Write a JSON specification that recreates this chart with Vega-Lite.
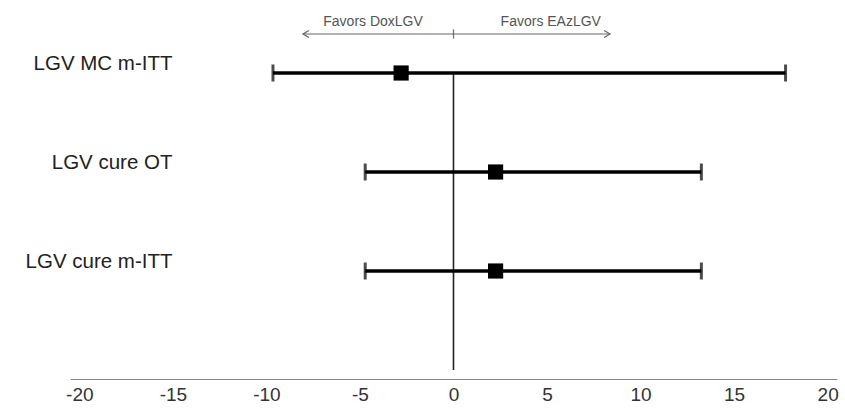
{
  "$schema": "https://vega.github.io/schema/vega-lite/v6.json",
  "width": 767,
  "height": 379,
  "autosize": {"type": "none"},
  "padding": {"left": 70, "top": 0, "right": 8, "bottom": 35},
  "background": "white",
  "config": {"view": {"stroke": null}, "font": "Liberation Sans"},
  "datasets": {
    "rows": [
      {"label": "LGV MC m-ITT", "row": 1, "est": -2.8, "lo": -9.65, "hi": 17.75},
      {"label": "LGV cure OT", "row": 2, "est": 2.25, "lo": -4.72, "hi": 13.25},
      {"label": "LGV cure m-ITT", "row": 3, "est": 2.25, "lo": -4.72, "hi": 13.25}
    ],
    "zeroline": [{"x": 0, "from": 1, "to": 4}],
    "annot": [
      {"text": "Favors DoxLGV", "dir": "left", "start": 0, "end": -8.05, "tx": -4.3, "row": 0.606},
      {"text": "Favors EAzLGV", "dir": "right", "start": 0, "end": 8.37, "tx": 5.2, "row": 0.606}
    ]
  },
  "layer": [
    {
      "data": {"name": "zeroline"},
      "mark": {"type": "rule", "color": "#222", "strokeWidth": 1.6},
      "encoding": {
        "x": {"field": "x", "type": "quantitative", "scale": {"domain": [-20.5, 20.5], "nice": false, "zero": false},
          "axis": {"values": [-20, -15, -10, -5, 0, 5, 10, 15, 20], "labelExpr": "replace(datum.label, '\u2212', '-')", "ticks": false, "grid": false, "domainColor": "#888", "domainWidth": 1.2, "labelFontSize": 19, "labelColor": "#333", "labelPadding": 6, "title": null, "labelFont": "Liberation Sans"}},
        "y": {"field": "from", "type": "quantitative", "scale": {"domain": [0.2626, 4.0909], "reverse": true, "nice": false, "zero": false},
          "axis": {"values": [1, 2, 3], "labelExpr": "datum.value == 1 ? 'LGV MC m-ITT' : datum.value == 2 ? 'LGV cure OT' : 'LGV cure m-ITT'", "domain": false, "ticks": false, "grid": false, "offset": -102, "labelPadding": 0, "labelOffset": -10, "labelFontSize": 20.5, "labelColor": "#222", "labelFont": "Liberation Sans", "title": null}},
        "y2": {"field": "to"}
      }
    },
    {
      "data": {"name": "rows"},
      "mark": {"type": "rule", "color": "#000", "strokeWidth": 3.5},
      "encoding": {
        "x": {"field": "lo", "type": "quantitative", "scale": {"domain": [-20.5, 20.5], "nice": false, "zero": false}},
        "x2": {"field": "hi"},
        "y": {"field": "row", "type": "quantitative", "scale": {"domain": [0.2626, 4.0909], "reverse": true, "nice": false, "zero": false}}
      }
    },
    {
      "data": {"name": "rows"},
      "transform": [{"fold": ["lo", "hi"], "as": ["end", "val"]}],
      "mark": {"type": "tick", "orient": "vertical", "color": "#000", "size": 17, "thickness": 3},
      "encoding": {
        "x": {"field": "val", "type": "quantitative", "scale": {"domain": [-20.5, 20.5], "nice": false, "zero": false}},
        "y": {"field": "row", "type": "quantitative", "scale": {"domain": [0.2626, 4.0909], "reverse": true, "nice": false, "zero": false}}
      }
    },
    {
      "data": {"name": "rows"},
      "mark": {"type": "point", "shape": "square", "filled": true, "color": "#000", "opacity": 1, "size": 230},
      "encoding": {
        "x": {"field": "est", "type": "quantitative", "scale": {"domain": [-20.5, 20.5], "nice": false, "zero": false}},
        "y": {"field": "row", "type": "quantitative", "scale": {"domain": [0.2626, 4.0909], "reverse": true, "nice": false, "zero": false}}
      }
    },
    {
      "data": {"name": "annot"},
      "mark": {"type": "rule", "color": "#666", "strokeWidth": 1.2},
      "encoding": {
        "x": {"field": "start", "type": "quantitative", "scale": {"domain": [-20.5, 20.5], "nice": false, "zero": false}},
        "x2": {"field": "end"},
        "y": {"field": "row", "type": "quantitative", "scale": {"domain": [0.2626, 4.0909], "reverse": true, "nice": false, "zero": false}}
      }
    },
    {
      "data": {"name": "annot"},
      "mark": {"type": "point", "filled": false, "color": "#666", "strokeWidth": 1.2, "opacity": 1, "size": 144},
      "encoding": {
        "x": {"field": "end", "type": "quantitative", "scale": {"domain": [-20.5, 20.5], "nice": false, "zero": false}},
        "y": {"field": "row", "type": "quantitative", "scale": {"domain": [0.2626, 4.0909], "reverse": true, "nice": false, "zero": false}},
        "shape": {"field": "dir", "type": "nominal", "scale": {"domain": ["left", "right"], "range": ["M1,-0.6L0,0L1,0.6", "M-1,-0.6L0,0L-1,0.6"]}, "legend": null}
      }
    },
    {
      "data": {"name": "annot"},
      "mark": {"type": "tick", "orient": "vertical", "color": "#666", "size": 9, "thickness": 1.2},
      "encoding": {
        "x": {"field": "start", "type": "quantitative", "scale": {"domain": [-20.5, 20.5], "nice": false, "zero": false}},
        "y": {"field": "row", "type": "quantitative", "scale": {"domain": [0.2626, 4.0909], "reverse": true, "nice": false, "zero": false}}
      }
    },
    {
      "data": {"name": "annot"},
      "mark": {"type": "text", "align": "center", "baseline": "middle", "dy": -12, "fontSize": 14, "color": "#555", "font": "Liberation Sans"},
      "encoding": {
        "x": {"field": "tx", "type": "quantitative", "scale": {"domain": [-20.5, 20.5], "nice": false, "zero": false}},
        "y": {"field": "row", "type": "quantitative", "scale": {"domain": [0.2626, 4.0909], "reverse": true, "nice": false, "zero": false}},
        "text": {"field": "text"}
      }
    }
  ]
}
